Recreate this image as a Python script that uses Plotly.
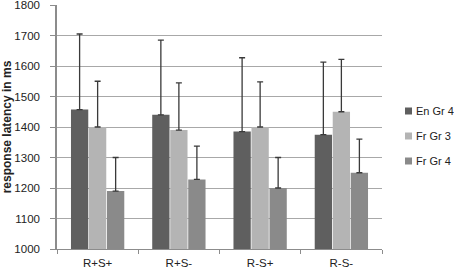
import plotly.graph_objects as go

categories = ["R+S+", "R+S-", "R-S+", "R-S-"]
series_names = ["En Gr 4", "Fr Gr 3", "Fr Gr 4"]
en_gr4 = [1457, 1440, 1385, 1375]
fr_gr3 = [1400, 1390, 1400, 1450]
fr_gr4 = [1190, 1228, 1200, 1250]
en_gr4_err = [248, 245, 242, 238]
fr_gr3_err = [150, 155, 148, 172]
fr_gr4_err = [110, 109, 100, 110]
colors = ["#5f5f5f", "#b4b4b4", "#8a8a8a"]

values = [en_gr4, fr_gr3, fr_gr4]
errors = [en_gr4_err, fr_gr3_err, fr_gr4_err]

W, H = 454, 271
ml, mr, mt, mb = 57, 72, 5, 22

fig = go.Figure()
for name, vals, errs, col in zip(series_names, values, errors, colors):
    fig.add_trace(go.Bar(
        x=categories, y=vals, name=name, marker=dict(color=col, line=dict(width=0)),
        error_y=dict(type="data", symmetric=False, array=errs, arrayminus=[0]*len(errs),
                     color="#3a3a3a", thickness=1.3, width=3),
        showlegend=False,
    ))

# manual legend placed to the right of the plot area
pw = W - ml - mr
ph = H - mt - mb
legend_y_px = [111, 136, 161]
for name, col, ypx in zip(series_names, colors, legend_y_px):
    x0 = (405 - ml) / pw
    x1 = (412 - ml) / pw
    y0 = (H - mb - (ypx + 3.5)) / ph
    y1 = (H - mb - (ypx - 3.5)) / ph
    fig.add_shape(type="rect", xref="paper", yref="paper", x0=x0, x1=x1, y0=y0, y1=y1,
                  fillcolor=col, line=dict(width=0))
    fig.add_annotation(text=name, xref="paper", yref="paper", x=(414 - ml) / pw,
                       y=(H - mb - ypx) / ph, xanchor="left", yanchor="middle",
                       showarrow=False, font=dict(size=11, color="#222"))

fig.update_layout(
    width=W, height=H,
    margin=dict(l=ml, r=mr, t=mt, b=mb, autoexpand=False),
    paper_bgcolor="white", plot_bgcolor="white",
    font=dict(family="Liberation Sans, Arial, sans-serif", size=11.5, color="#222"),
    barmode="group", bargap=0.335, bargroupgap=0.04,
    xaxis=dict(tickson="boundaries", ticks="outside", ticklen=4, tickcolor="#8c8c8c",
               showline=True, linecolor="#8c8c8c", linewidth=1, showgrid=False,
               ticklabelstandoff=3, ticklabeloverflow="allow"),
    yaxis=dict(range=[1000, 1800], dtick=100, ticks="outside", ticklen=5, tickcolor="#8c8c8c",
               showline=True, linecolor="#8c8c8c", linewidth=1.5,
               showgrid=True, gridcolor="#a8a8a8", gridwidth=1, zeroline=False,
               ticklabelstandoff=8, ticklabeloverflow="allow",
               title=dict(text="<b>response latency in ms</b>", font=dict(size=12), standoff=4)),
)

fig.write_html("out.html", post_script="document.body.style.margin='0';",
               config={"displayModeBar": False})
